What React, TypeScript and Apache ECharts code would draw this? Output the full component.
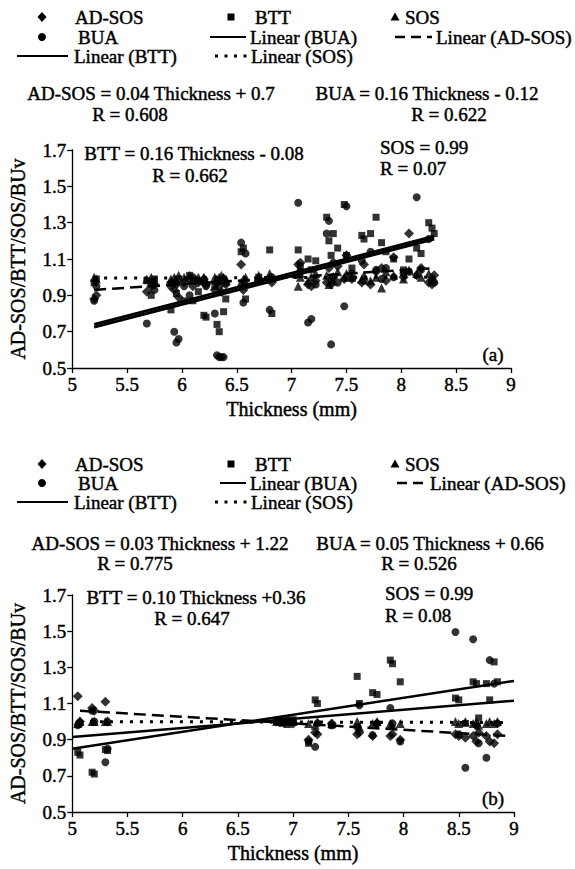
import React, { useEffect, useRef } from "react";
import * as echarts from "echarts";

const FONT = "Liberation Serif";

// ---------- Panel (a) ----------
const thicknessA = [5.2, 5.22, 5.68, 5.72, 5.75, 5.9, 5.93, 5.95, 5.97, 6.02, 6.07, 6.1, 6.15, 6.2, 6.22, 6.3, 6.32, 6.34, 6.36, 6.38, 6.4, 6.54, 6.56, 6.58, 6.7, 6.8, 6.82, 7.06, 7.08, 7.15, 7.18, 7.22, 7.32, 7.34, 7.36, 7.38, 7.42, 7.48, 7.5, 7.55, 7.64, 7.66, 7.72, 7.77, 7.82, 7.86, 7.93, 8.02, 8.07, 8.14, 8.18, 8.25, 8.28, 8.3];
const adsosA = [0.88, 0.9, 0.92, 0.95, 0.96, 0.97, 0.93, 0.96, 0.89, 0.97, 0.99, 0.95, 0.97, 0.99, 0.96, 0.93, 0.97, 0.95, 0.92, 0.99, 0.96, 1.07, 0.93, 0.96, 0.98, 0.99, 0.97, 1.07, 1.08, 0.96, 0.95, 0.98, 0.97, 1.05, 0.96, 1.0, 1.06, 0.99, 1.12, 0.99, 0.97, 1.07, 0.96, 1.03, 1.05, 0.98, 1.11, 1.0, 1.24, 1.01, 1.05, 0.97, 0.96, 1.01];
const bttA = [0.97, 0.99, 0.98, 0.9, 0.99, 0.82, 0.97, 0.91, 0.99, 0.87, 1.01, 0.87, 0.92, 0.79, 0.78, 0.95, 0.74, 0.7, 0.98, 0.81, 0.88, 1.14, 1.16, 0.88, 1.0, 1.15, 0.8, 1.15, 1.06, 1.1, 1.04, 1.09, 1.33, 1.2, 1.12, 1.24, 1.16, 1.4, 1.12, 1.05, 1.23, 1.21, 1.24, 1.33, 1.19, 1.14, 1.1, 1.04, 1.1, 1.16, 1.13, 1.3, 1.27, 1.24];
const sosA = [1.0, 0.99, 0.99, 1.0, 0.98, 0.99, 1.0, 0.98, 1.01, 1.0, 1.01, 0.99, 1.0, 1.0, 0.98, 1.0, 0.99, 1.0, 1.01, 1.0, 0.99, 0.97, 0.99, 1.0, 1.01, 1.02, 1.0, 0.95, 1.0, 0.98, 1.0, 1.02, 1.01, 0.96, 1.0, 0.98, 1.03, 1.0, 1.02, 1.0, 0.99, 1.01, 0.98, 1.0, 0.94, 1.03, 1.01, 0.99, 1.04, 1.02, 1.0, 1.02, 1.0, 0.99];
const buaA = [0.87, 0.95, 0.745, 0.97, 0.93, 0.95, 0.7, 0.64, 0.66, 0.95, 0.9, 1.0, 0.98, 0.97, 0.95, 0.8, 0.57, 0.56, 0.56, 0.56, 0.97, 1.19, 0.86, 1.13, 0.99, 0.82, 1.0, 1.41, 1.03, 0.75, 0.77, 0.96, 1.24, 1.31, 0.63, 1.08, 0.97, 0.84, 1.39, 1.02, 1.09, 0.98, 1.14, 1.04, 0.99, 1.05, 1.0, 1.02, 1.03, 1.44, 1.04, 1.21, 0.98, 0.97];
const trendBuaA = [[5.2, 0.725], [8.3, 1.21]];
const trendBttA = [[5.2, 0.74], [8.3, 1.225]];
const trendAdsosA = [[5.2, 0.93], [8.3, 1.05]];
const trendSosA = [[5.2, 0.995], [8.3, 1.0]];

// ---------- Panel (b) ----------
const thicknessB = [5.05, 5.07, 5.18, 5.2, 5.3, 5.32, 6.85, 6.9, 6.95, 7.0, 7.14, 7.2, 7.22, 7.35, 7.58, 7.6, 7.72, 7.76, 7.88, 7.9, 7.97, 8.47, 8.5, 8.56, 8.63, 8.66, 8.68, 8.75, 8.78, 8.82, 8.85];
const adsosB = [1.14, 1.0, 1.075, 1.06, 1.11, 1.0, 1.0, 1.01, 1.0, 0.99, 0.9, 0.94, 0.93, 0.99, 0.93, 0.94, 0.92, 0.99, 0.92, 0.93, 0.9, 0.93, 0.92, 0.91, 0.92, 0.89, 0.94, 0.92, 0.89, 0.88, 0.93];
const bttB = [0.83, 0.815, 0.72, 0.71, 0.845, 0.84, 1.0, 0.99, 1.0, 1.01, 0.88, 1.12, 1.1, 0.98, 1.25, 1.1, 1.16, 1.15, 1.34, 1.32, 1.22, 1.13, 1.12, 0.99, 1.22, 1.21, 1.02, 1.21, 1.12, 1.33, 1.22];
const sosB = [0.99, 1.0, 1.0, 1.0, 1.0, 1.0, 1.0, 1.0, 0.99, 1.0, 0.99, 0.98, 1.0, 0.99, 1.0, 0.97, 0.99, 1.0, 0.99, 0.98, 0.99, 1.0, 0.99, 1.0, 0.99, 1.0, 0.98, 0.99, 1.0, 0.99, 1.0];
const buaB = [0.98, 0.99, 1.06, 1.0, 0.775, 0.85, 1.0, 1.0, 1.01, 1.0, 0.89, 0.86, 0.99, 0.98, 0.97, 1.09, 0.925, 0.99, 1.075, 0.99, 0.89, 1.495, 0.93, 0.745, 1.455, 0.98, 0.88, 0.8, 1.34, 1.21, 0.99];
const trendBuaB = [[5.0, 0.915], [9.0, 1.115]];
const trendBttB = [[5.0, 0.85], [9.0, 1.225]];
const trendAdsosB = [[5.07, 1.06], [8.95, 0.92]];
const trendSosB = [[5.07, 1.0], [8.9, 0.995]];

// ---------- axes / labels ----------
const xTicks = [5, 5.5, 6, 6.5, 7, 7.5, 8, 8.5, 9];
const yTicks = [0.5, 0.7, 0.9, 1.1, 1.3, 1.5, 1.7];
const xName = "Thickness (mm)";
const yName = "AD-SOS/BTT/SOS/BUv";
const legendNames = ["AD-SOS", "BTT", "SOS", "BUA", "Linear (BUA)", "Linear (AD-SOS)", "Linear (BTT)", "Linear (SOS)"];

const eqTextsA = [
  "AD-SOS = 0.04 Thickness + 0.7", "R = 0.608",
  "BUA = 0.16 Thickness - 0.12", "R = 0.622",
  "BTT = 0.16 Thickness - 0.08", "R = 0.662",
  "SOS = 0.99", "R = 0.07",
];
const eqTextsB = [
  "AD-SOS = 0.03 Thickness + 1.22", "R = 0.775",
  "BUA = 0.05 Thickness + 0.66", "R = 0.526",
  "BTT = 0.10 Thickness +0.36", "R = 0.647",
  "SOS = 0.99", "R = 0.08",
];
const panelTags = ["(a)", "(b)"];

const pts = (xs: number[], ys: number[]) => xs.map((x, i) => [x, ys[i]]);

export default function App() {
  const ref = useRef<HTMLDivElement>(null);

  useEffect(() => {
    if (!ref.current) return;
    const chart = echarts.init(ref.current, undefined, { renderer: "svg" });

    const ink = { textBorderColor: "#000", textBorderWidth: 0.45 };

    const grids = [
      { left: 68, top: 150, width: 443, height: 218 },
      { left: 72, top: 595, width: 442, height: 217 },
    ];

    const mkX = (gi: number) => ({
      type: "value",
      gridIndex: gi,
      min: xTicks[0],
      max: xTicks[xTicks.length - 1],
      interval: 0.5,
      name: xName,
      nameLocation: "middle",
      nameGap: 31,
      nameTextStyle: { fontFamily: FONT, fontSize: 20, color: "#000", ...ink },
      axisLine: { lineStyle: { color: "#000", width: 1.3 } },
      axisTick: { show: true, inside: false, length: 5, lineStyle: { color: "#000", width: 1.3 } },
      axisLabel: {
        fontFamily: FONT, fontSize: 19, color: "#000", margin: 7, ...ink,
        formatter: (v: number) => String(Math.round(v * 10) / 10),
      },
      splitLine: { show: false },
    });
    const mkY = (gi: number) => ({
      type: "value",
      gridIndex: gi,
      min: yTicks[0],
      max: yTicks[yTicks.length - 1],
      interval: 0.2,
      name: yName,
      nameLocation: "middle",
      nameGap: 44,
      nameTextStyle: { fontFamily: FONT, fontSize: 20, color: "#000", ...ink },
      axisLine: { show: true, lineStyle: { color: "#000", width: 1.3 } },
      axisTick: { show: true, inside: false, length: 5, lineStyle: { color: "#000", width: 1.3 } },
      axisLabel: {
        fontFamily: FONT, fontSize: 19, color: "#000", margin: 6, ...ink,
        formatter: (v: number) => (Math.round(v * 10) / 10).toFixed(1),
      },
      splitLine: { show: false },
    });

    const scatter = (name: string, gi: number, data: number[][], symbol: string, size: number) => ({
      name, type: "scatter", xAxisIndex: gi, yAxisIndex: gi, data, symbol, symbolSize: size,
      itemStyle: { color: "#000" }, z: 2,
    });
    const line = (name: string, gi: number, data: number[][], width: number, type: any) => ({
      name, type: "line", xAxisIndex: gi, yAxisIndex: gi, data, symbol: "none",
      lineStyle: { color: "#000", width, type }, itemStyle: { color: "#000" }, z: 3,
    });

    const series = [
      scatter(legendNames[0], 0, pts(thicknessA, adsosA), "diamond", 10),
      scatter(legendNames[1], 0, pts(thicknessA, bttA), "rect", 7),
      scatter(legendNames[2], 0, pts(thicknessA, sosA), "triangle", 9),
      scatter(legendNames[3], 0, pts(thicknessA, buaA), "circle", 8),
      line(legendNames[4], 0, trendBuaA, 3, "solid"),
      line(legendNames[6], 0, trendBttA, 3, "solid"),
      line(legendNames[7], 0, trendSosA, 3, [3, 7]),
      line(legendNames[5], 0, trendAdsosA, 2.5, [12, 6]),
      scatter(legendNames[0], 1, pts(thicknessB, adsosB), "diamond", 10),
      scatter(legendNames[1], 1, pts(thicknessB, bttB), "rect", 7),
      scatter(legendNames[2], 1, pts(thicknessB, sosB), "triangle", 9),
      scatter(legendNames[3], 1, pts(thicknessB, buaB), "circle", 8),
      line(legendNames[4], 1, trendBuaB, 2.5, "solid"),
      line(legendNames[6], 1, trendBttB, 2.5, "solid"),
      line(legendNames[7], 1, trendSosB, 3, [3, 7]),
      line(legendNames[5], 1, trendAdsosB, 2.5, [12, 6]),
    ];

    const txt = (text: string, x: number, y: number, align: string) => ({
      type: "text", x, y, silent: true,
      style: {
        text, fill: "#000", fontFamily: FONT, fontSize: 19,
        stroke: "#000", lineWidth: 0.45,
        align, verticalAlign: "middle", textAlign: align, textVerticalAlign: "middle",
      },
    });
    const blk = { fill: "#000" };
    const seg = (x1: number, x2: number, y: number, w: number, dash?: number[]) => ({
      type: "line", silent: true,
      shape: { x1, y1: y, x2, y2: y },
      style: { stroke: "#000", lineWidth: w, lineDash: dash || null },
    });
    const legendGraphic = (r1: number, r2: number, r3: number, alt: boolean) => [
      { type: "polygon", silent: true, shape: { points: [[42, r1 - 5], [46.5, r1], [42, r1 + 5], [37.5, r1]] }, style: blk },
      txt(legendNames[0], 75, r1, "left"),
      { type: "rect", silent: true, shape: { x: 227.5, y: r1 - 3.5, width: 7, height: 7 }, style: blk },
      txt(legendNames[1], 255, r1, "left"),
      { type: "polygon", silent: true, shape: { points: [[395, r1 - 4.5], [399.5, r1 + 3.5], [390.5, r1 + 3.5]] }, style: blk },
      txt(legendNames[2], 405, r1, "left"),
      { type: "circle", silent: true, shape: { cx: 42, cy: r2, r: 4 }, style: blk },
      txt(legendNames[3], 78, r2, "left"),
      seg(alt ? 220 : 210, 246, r2, 2),
      txt(legendNames[4], 250, r2, "left"),
      seg(alt ? 397 : 395, alt ? 426 : 432, r2, 2.5, [10, 6]),
      txt(legendNames[5], alt ? 430 : 436, r2, "left"),
      seg(17, 68, r3, 2),
      txt(legendNames[6], 74, r3, "left"),
      seg(215, 247, r3, 3, [3, 6.5]),
      txt(legendNames[7], 251, r3, "left"),
    ];

    const graphic = [
      ...legendGraphic(17, 37, 56, false),
      ...legendGraphic(464, 483, 502, true),
      txt(eqTextsA[0], 151, 93, "center"), txt(eqTextsA[1], 130, 114, "center"),
      txt(eqTextsA[2], 427, 93, "center"), txt(eqTextsA[3], 449, 114, "center"),
      txt(eqTextsA[4], 194, 153, "center"), txt(eqTextsA[5], 190, 175, "center"),
      txt(eqTextsA[6], 380, 147, "left"), txt(eqTextsA[7], 380, 168, "left"),
      txt(panelTags[0], 493, 354, "center"),
      txt(eqTextsB[0], 160, 543, "center"), txt(eqTextsB[1], 135, 563, "center"),
      txt(eqTextsB[2], 430, 543, "center"), txt(eqTextsB[3], 419, 563, "center"),
      txt(eqTextsB[4], 196, 597, "center"), txt(eqTextsB[5], 192, 618, "center"),
      txt(eqTextsB[6], 385, 593, "left"), txt(eqTextsB[7], 385, 615, "left"),
      txt(panelTags[1], 493, 798, "center"),
    ];

    chart.setOption({
      animation: false,
      backgroundColor: "#fff",
      textStyle: { fontFamily: FONT },
      grid: grids,
      xAxis: [mkX(0), mkX(1)],
      yAxis: [mkY(0), mkY(1)],
      series,
      graphic,
    });

    return () => chart.dispose();
  }, []);

  return (
    <div
      ref={ref}
      style={{ position: "absolute", left: 0, top: 0, width: 575, height: 869, background: "#fff" }}
    />
  );
}
